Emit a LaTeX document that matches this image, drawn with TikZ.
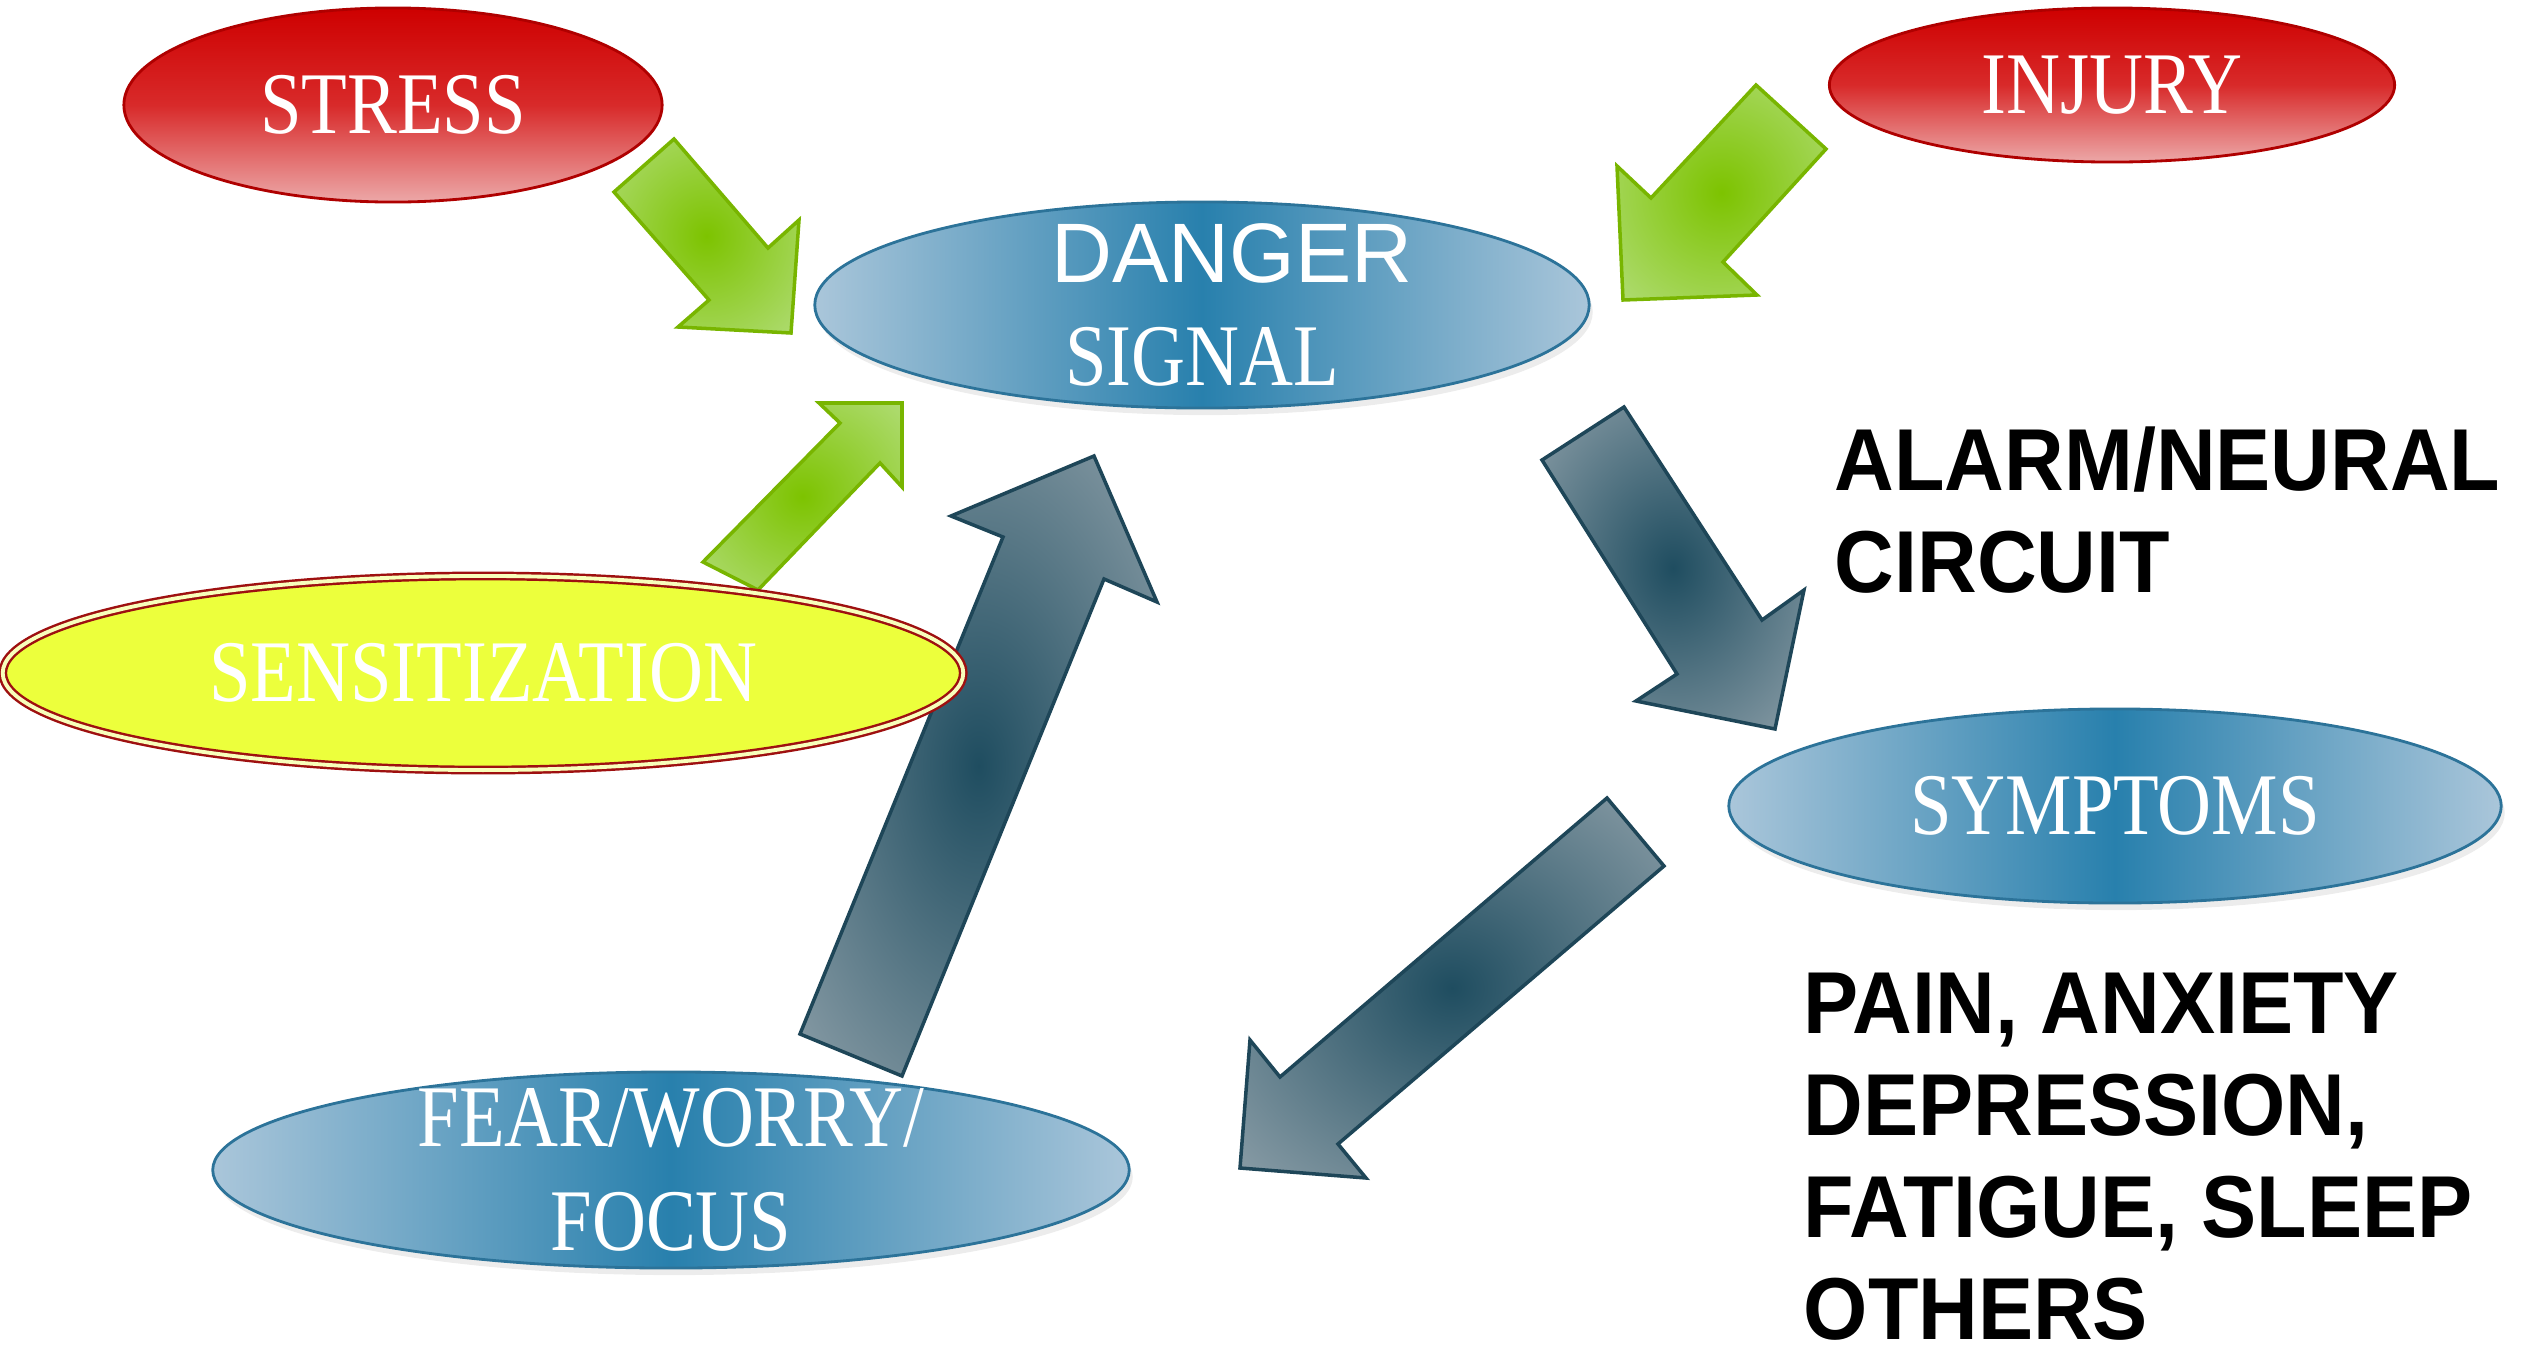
\documentclass[tikz,border=0pt]{standalone}
\usepackage{fontspec}
\setmainfont{Liberation Serif}
\newfontfamily\slimserif[FakeStretch=0.85]{Liberation Serif}
\newfontfamily\plainsans{Liberation Sans}
\newfontfamily\heavysans[FakeStretch=0.94]{Liberation Sans Bold}
\usetikzlibrary{shapes.geometric, shadows}

\definecolor{redtop}{HTML}{CE0000}
\definecolor{redmid}{HTML}{D82A2A}
\definecolor{redbot}{HTML}{ECA8A8}
\definecolor{blueedge}{HTML}{AAC6DA}
\definecolor{bluemid}{HTML}{2880AD}
\definecolor{blueline}{HTML}{2C7399}
\definecolor{lemon}{HTML}{ECFF3C}
\definecolor{wine}{HTML}{9E1010}
\definecolor{greenmid}{HTML}{7DC300}
\definecolor{greenedge}{HTML}{C4E6A2}
\definecolor{greenline}{HTML}{78B500}
\definecolor{slatemid}{HTML}{1F4D60}
\definecolor{slateedge}{HTML}{B5BDC3}
\definecolor{slateline}{HTML}{1E4658}

\pgfdeclareradialshading{greenglow}{\pgfpoint{0bp}{0bp}}{color(0bp)=(greenmid); color(50bp)=(greenedge); color(75bp)=(greenedge)}
\pgfdeclareradialshading{slateglow}{\pgfpoint{0bp}{0bp}}{color(0bp)=(slatemid); color(50bp)=(slateedge); color(75bp)=(slateedge)}

\begin{document}
\begin{tikzpicture}[
  x=0.01cm, y=-0.01cm,
  redoval/.style={ellipse, draw=redtop!85!black, line width=0.8pt,
                  top color=redtop, bottom color=redbot, middle color=redmid,
                  text=white, inner sep=0pt,
                  font=\slimserif\fontsize{25}{29}\selectfont},
  blueoval/.style={ellipse, draw=blueline, line width=0.8pt,
                   left color=blueedge, right color=blueedge, middle color=bluemid,
                   drop shadow={opacity=0.15, shadow xshift=1pt, shadow yshift=-2pt},
                   text=white, align=center, inner sep=0pt,
                   font=\slimserif\fontsize{25}{29.5}\selectfont},
  yellowoval/.style={ellipse, draw=wine, line width=0.7pt,
                     double=lemon!35!white, double distance=1.1pt, fill=lemon,
                     text=white, inner sep=0pt,
                     font=\slimserif\fontsize{25}{29}\selectfont},
  sidetext/.style={font=\heavysans\fontsize{25}{29}\selectfont,
                   align=left, inner sep=0pt, anchor=north west},
  greenarrow/.style={shading=greenglow, draw=greenline, line width=1pt},
  slatearrow/.style={shading=slateglow, draw=slateline, line width=1pt}
]
  \useasboundingbox (0,0) rectangle (2529,1354);

  \shadedraw[greenarrow] (614,192) -- (674,139) -- (768,248) -- (799,220)
    -- (791,333) -- (678,327) -- (709,300) -- cycle;
  \shadedraw[greenarrow] (1756,85) -- (1826,149) -- (1723,262) -- (1757,295)
    -- (1623,300) -- (1617,166) -- (1651,198) -- cycle;
  \shadedraw[greenarrow] (703,562) -- (758,590) -- (880,463) -- (902,487)
    -- (902,403) -- (819,403) -- (840,423) -- cycle;
  \shadedraw[slatearrow] (800,1034) -- (1003,537) -- (951,516) -- (1094,456)
    -- (1157,602) -- (1104,579) -- (902,1076) -- cycle;
  \shadedraw[slatearrow] (1624,407) -- (1542,460) -- (1677,674) -- (1636,701)
    -- (1775,729) -- (1804,590) -- (1762,620) -- cycle;
  \shadedraw[slatearrow] (1607,798) -- (1664,866) -- (1338,1144) -- (1366,1178)
    -- (1240,1168) -- (1250,1040) -- (1280,1077) -- cycle;

  \node[redoval, minimum width=5.38cm, minimum height=1.94cm] (stress) at (393,105) {STRESS};
  \node[redoval, minimum width=5.65cm, minimum height=1.54cm] (injury) at (2112,85) {INJURY};
  \node[blueoval, minimum width=7.74cm, minimum height=2.06cm, inner ysep=-8pt] (danger) at (1202,305)
    {\hspace*{0.6cm}{\plainsans\fontsize{24}{29.5}\selectfont DANGER}\\SIGNAL};
  \node[yellowoval, minimum width=9.6cm, minimum height=1.94cm] (sens) at (483,673) {SENSITIZATION};
  \node[blueoval, minimum width=7.72cm, minimum height=1.94cm] (symptoms) at (2115,806) {SYMPTOMS};
  \node[blueoval, minimum width=9.16cm, minimum height=1.96cm, inner ysep=-8pt] (fear) at (671,1170)
    {FEAR/WORRY/\\FOCUS};

  \node[sidetext] (circuit) at (1834,426) {ALARM/NEURAL\\CIRCUIT};
  \node[sidetext] (effects) at (1803,972) {PAIN, ANXIETY\\DEPRESSION,\\FATIGUE, SLEEP\\OTHERS};
\end{tikzpicture}
\end{document}
